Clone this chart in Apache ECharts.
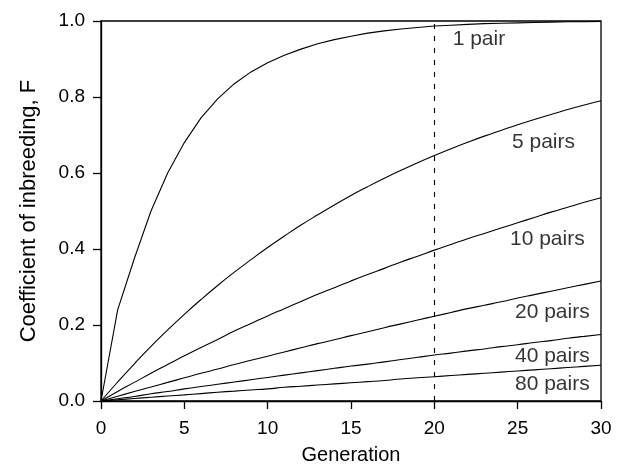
<!DOCTYPE html>
<html>
<head>
<meta charset="utf-8">
<script src="https://cdn.jsdelivr.net/npm/echarts@6/dist/echarts.min.js"></script>
<style>html,body{margin:0;padding:0;background:#fff;}#chart{width:617px;height:465px;}</style>
</head>
<body>
<div id="chart"></div>
<script>
const generations = [0,1,2,3,4,5,6,7,8,9,10,11,12,13,14,15,16,17,18,19,20,21,22,23,24,25,26,27,28,29,30];
const pair1   = [0, 0.24, 0.375, 0.50, 0.60, 0.68, 0.745, 0.795, 0.835, 0.866, 0.89, 0.91, 0.926, 0.94, 0.951, 0.96, 0.968, 0.974, 0.979, 0.983, 0.987, 0.989, 0.991, 0.993, 0.994, 0.995, 0.996, 0.997, 0.998, 0.998, 0.999];
const pairs5  = [0, 0.05, 0.098, 0.144, 0.187, 0.228, 0.267, 0.304, 0.339, 0.372, 0.404, 0.434, 0.463, 0.490, 0.516, 0.541, 0.564, 0.586, 0.607, 0.627, 0.646, 0.664, 0.681, 0.697, 0.712, 0.727, 0.741, 0.754, 0.767, 0.779, 0.79];
const pairs10 = [0, 0.025, 0.049, 0.073, 0.096, 0.119, 0.141, 0.162, 0.184, 0.204, 0.224, 0.243, 0.262, 0.281, 0.298, 0.316, 0.333, 0.349, 0.366, 0.381, 0.397, 0.412, 0.427, 0.441, 0.455, 0.469, 0.483, 0.497, 0.510, 0.523, 0.535];
const pairs20 = [0, 0.0125, 0.025, 0.037, 0.049, 0.061, 0.073, 0.084, 0.096, 0.107, 0.118, 0.129, 0.140, 0.151, 0.161, 0.172, 0.182, 0.193, 0.203, 0.213, 0.223, 0.233, 0.243, 0.252, 0.261, 0.271, 0.280, 0.289, 0.298, 0.307, 0.316];
const pairs40 = [0, 0.006, 0.012, 0.019, 0.025, 0.032, 0.038, 0.044, 0.050, 0.056, 0.062, 0.068, 0.074, 0.080, 0.086, 0.092, 0.097, 0.103, 0.109, 0.115, 0.121, 0.126, 0.132, 0.137, 0.143, 0.148, 0.154, 0.159, 0.165, 0.170, 0.175];
const pairs80 = [0, 0.0033, 0.0066, 0.0098, 0.013, 0.016, 0.0195, 0.023, 0.026, 0.029, 0.032, 0.036, 0.039, 0.042, 0.045, 0.048, 0.051, 0.054, 0.058, 0.061, 0.064, 0.067, 0.070, 0.073, 0.076, 0.079, 0.082, 0.085, 0.088, 0.091, 0.094];
const curveLabels = ['1 pair', '5 pairs', '10 pairs', '20 pairs', '40 pairs', '80 pairs'];
const labelX = [21.1, 24.66, 24.54, 24.84, 24.84, 24.84];
const labelY = [0.953, 0.68, 0.425, 0.234, 0.118, 0.045];
const xTicks = [0, 5, 10, 15, 20, 25, 30];
const yTicks = ['0.0', '0.2', '0.4', '0.6', '0.8', '1.0'];
const markerGeneration = 20;

const FONT = '"Liberation Sans", Arial, Helvetica, sans-serif';
const chart = echarts.init(document.getElementById('chart'), null, {renderer: 'canvas'});

function lineSeries(ys, smooth) {
  return {
    type: 'line',
    data: generations.map((x, i) => [x, ys[i]]),
    showSymbol: false,
    smooth: smooth,
    lineStyle: {color: '#000', width: 1.1},
    silent: true,
    z: 3
  };
}

const series = [
  lineSeries(pair1, false),
  lineSeries(pairs5, true),
  lineSeries(pairs10, true),
  lineSeries(pairs20, true),
  lineSeries(pairs40, true),
  lineSeries(pairs80, true),
  {
    type: 'scatter',
    symbolSize: 0,
    silent: true,
    data: curveLabels.map((t, i) => ({value: [labelX[i], labelY[i]], name: t})),
    label: {
      show: true,
      position: 'inside',
      align: 'left',
      verticalAlign: 'middle',
      formatter: p => p.name,
      color: '#000',
      fontSize: 21,
      fontFamily: FONT
    },
    markLine: {
      silent: true,
      symbol: 'none',
      label: {show: false},
      lineStyle: {color: '#000', type: [5, 7], width: 1.1},
      data: [{xAxis: markerGeneration}]
    }
  }
];

chart.setOption({
  animation: false,
  backgroundColor: '#fff',
  grid: {left: 101, right: 16, top: 21, bottom: 64, containLabel: false, outerBoundsMode: 'none',
    show: true, borderColor: '#000', borderWidth: 1.3, backgroundColor: 'transparent'},
  xAxis: {
    type: 'value',
    min: 0, max: 30, interval: 5,
    name: 'Generation',
    nameLocation: 'middle',
    nameGap: 44,
    nameTextStyle: {color: '#000', fontSize: 20, fontFamily: FONT},
    axisLine: {show: true, lineStyle: {color: '#000', width: 1.3}},
    axisTick: {show: true, length: 8, lineStyle: {color: '#000', width: 1.3}},
    axisLabel: {color: '#000', fontSize: 19, fontFamily: FONT, margin: 18,
      formatter: v => xTicks.includes(v) ? String(v) : ''},
    splitLine: {show: false}
  },
  yAxis: {
    type: 'value',
    min: 0, max: 1, interval: 0.2,
    name: 'Coefficient of inbreeding, F',
    nameLocation: 'middle',
    nameGap: 61,
    nameTextStyle: {color: '#000', fontSize: 22, fontFamily: FONT},
    axisLine: {show: true, lineStyle: {color: '#000', width: 1.3}},
    axisTick: {show: true, length: 8, lineStyle: {color: '#000', width: 1.3}},
    axisLabel: {color: '#000', fontSize: 19, fontFamily: FONT, margin: 16,
      formatter: v => yTicks[Math.round(v / 0.2)]},
    splitLine: {show: false}
  },
  series: series
});
</script>
</body>
</html>
